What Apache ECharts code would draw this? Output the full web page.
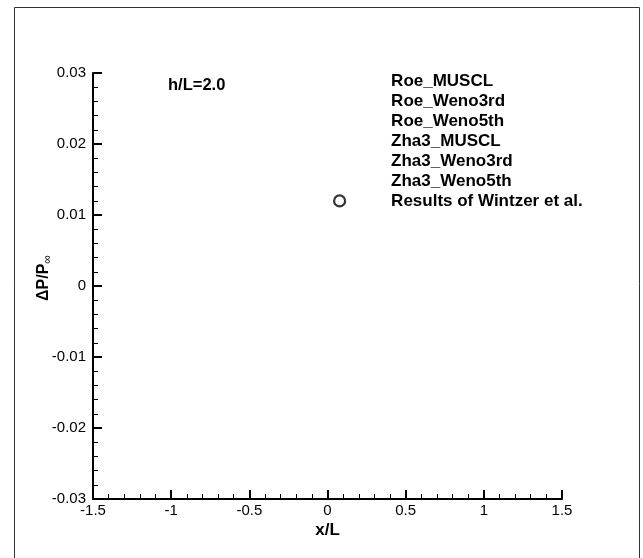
<!DOCTYPE html>
<html>
<head>
<meta charset="utf-8">
<script src="https://cdn.jsdelivr.net/npm/echarts@6/dist/echarts.min.js"></script>
<style>
html,body{margin:0;padding:0;background:#fff;}
#c{width:643px;height:558px;}
</style>
</head>
<body>
<div id="c"></div>
<script>
// ---- data ----
const seriesNames = ['Roe_MUSCL','Roe_Weno3rd','Roe_Weno5th','Zha3_MUSCL','Zha3_Weno3rd','Zha3_Weno5th','Results of Wintzer et al.'];
// No curves are visible in the reference; every series is empty.
const roeMuscl = [];
const roeWeno3 = [];
const roeWeno5 = [];
const zhaMuscl = [];
const zhaWeno3 = [];
const zhaWeno5 = [];
const wintzer = [];
const xRange = [-1.5, 1.5];
const yRange = [-0.03, 0.03];
const xStep = 0.5;
const yStep = 0.01;
const annotation = 'h/L=2.0';

const chart = echarts.init(document.getElementById('c'), null, {renderer:'canvas'});
const font = 'Liberation Sans, Arial, Helvetica, sans-serif';
const lineData = [roeMuscl, roeWeno3, roeWeno5, zhaMuscl, zhaWeno3, zhaWeno5];

const series = lineData.map((d,i)=>({
  name: seriesNames[i], type:'line', data:d, showSymbol:false,
  lineStyle:{color:'#000', width:1.5}, itemStyle:{color:'#000'}
}));
series.push({
  name: seriesNames[6], type:'scatter', data: wintzer,
  symbol:'circle', symbolSize:10,
  itemStyle:{color:'#fff', borderColor:'#000', borderWidth:2}
});

const legendData = seriesNames.map((n,i)=> i<6 ? {
  name:n, icon:'circle', itemStyle:{opacity:0, color:'rgba(0,0,0,0)', borderWidth:0}, lineStyle:{opacity:0}
} : {
  name:n, icon:'circle', itemStyle:{color:'#fff', borderColor:'#000', borderWidth:2.2}
});

chart.setOption({
  animation:false,
  backgroundColor:'#fff',
  textStyle:{fontFamily:font},
  grid:{left:93, right:81, top:73, bottom:59, containLabel:false},
  xAxis:{
    type:'value', min:xRange[0], max:xRange[1], interval:xStep,
    name:'x/L', nameLocation:'middle', nameGap:23, nameMoveOverlap:false,
    nameTextStyle:{fontSize:17, fontWeight:'bold', color:'#000', fontFamily:font},
    axisLine:{show:true, onZero:false, lineStyle:{color:'#000', width:2}},
    axisTick:{show:true, inside:true, length:9, lineStyle:{color:'#000', width:2}},
    minorTick:{show:true, splitNumber:5, length:5, lineStyle:{color:'#000', width:1}},
    splitLine:{show:false},
    axisLabel:{fontSize:15, color:'#000', margin:4, fontFamily:font}
  },
  yAxis:{
    type:'value', min:yRange[0], max:yRange[1], interval:yStep,
    name:'{a|ΔP/P}{b|∞}', nameLocation:'middle', nameGap:39, nameRotate:90, nameMoveOverlap:false,
    nameTextStyle:{
      color:'#000', padding:[0,0,0,16],
      rich:{
        a:{fontSize:16, fontWeight:'bold', color:'#000', fontFamily:font, lineHeight:20},
        b:{fontSize:12, fontWeight:'normal', color:'#000', fontFamily:font, verticalAlign:'bottom', lineHeight:12}
      }
    },
    axisLine:{show:true, onZero:false, lineStyle:{color:'#000', width:2}},
    axisTick:{show:true, inside:true, length:9, lineStyle:{color:'#000', width:2}},
    minorTick:{show:true, splitNumber:5, length:5, lineStyle:{color:'#000', width:1}},
    splitLine:{show:false},
    axisLabel:{fontSize:15, color:'#000', margin:7, fontFamily:font,
      formatter:(v)=>String(Number(v.toFixed(2)))}
  },
  legend:{
    show:true, orient:'vertical', left:333, top:73, padding:0,
    itemWidth:93, itemHeight:11, itemGap:2.9, align:'left',
    selectedMode:false,
    textStyle:{fontSize:17, fontWeight:'bold', color:'#000', fontFamily:font, lineHeight:17},
    data: legendData
  },
  graphic:[
    {type:'rect', left:12, top:5, silent:true,
      shape:{width:625, height:560},
      style:{fill:'none', stroke:'#333', lineWidth:1}},
    {type:'text', left:168, top:77, silent:true,
      style:{text:annotation, fontSize:16.5, fontWeight:'bold', fill:'#000', fontFamily:font}}
  ],
  series: series
});
</script>
</body>
</html>
